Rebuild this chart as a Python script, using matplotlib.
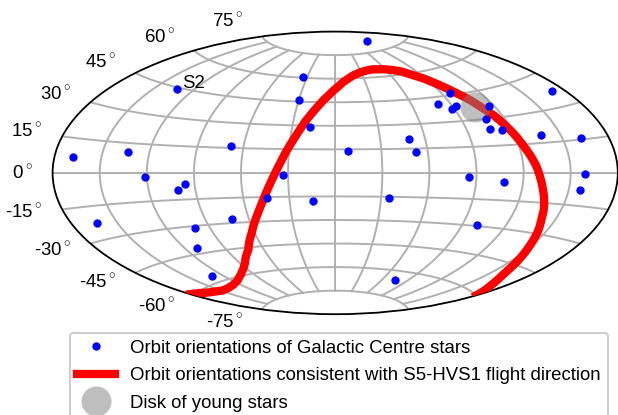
import numpy as np
import matplotlib
matplotlib.use('Agg')
import matplotlib.pyplot as plt

plt.rcParams['font.family'] = ['Liberation Sans', 'DejaVu Sans']
plt.rcParams['mathtext.fontset'] = 'custom'
plt.rcParams['mathtext.rm'] = 'Liberation Sans'
plt.rcParams['mathtext.sf'] = 'Liberation Sans'

W, H = 618, 415

# orbit orientations, degrees
star_lon = [-168.4, -133.6, -121.1, -95.9, -100.9, -133.6, -68.1, -34.6, -29.9, -17.9, -33.1, -44.6, -14.9,
            101.6, 96.9, 80.9, 92.4, 88.1, 116.1, 106.9, 105.6, 113.4, 137.6, 171.1, 162.4, 49.1, 52.6, 8.1,
            85.4, 107.6, 159.4, 156.9, 35.4, -163.6, -100.4, -71.6, -110.9, -130.4, 100.4, 75.1]
star_lat = [6.8, 10.6, -2.4, -6.1, -9.6, 44.4, 16.1, 60.4, 46.2, 29.3, -1.4, -15.3, -17.8,
            81.0, 46.2, 41.0, 38.5, 37.2, 36.5, 29.8, 24.5, 23.0, 19.0, 37.0, 15.8, 20.8, 12.6, 13.8,
            -2.6, -5.1, -0.4, -7.6, -15.8, -22.8, -31.2, -27.8, -41.9, -56.6, -29.5, -65.4]

track_lon = [-179.9, -171.8, -165.8, -149.8, -139.0, -127.4, -115.5, -103.5, -93.3, -85.9, -72.8, -62.4, -54.2,
             -48.7, -44.3, -40.1, -36.3, -33.1, -29.7, -25.8, -21.6, -16.2, -9.8, -1.7, 8.2, 19.3, 31.1, 44.4,
             56.3, 65.7, 74.0, 81.4, 88.2, 93.5, 98.3, 102.5, 106.8, 110.3, 114.2, 116.9, 119.8, 122.5, 125.4,
             128.2, 130.5, 133.2, 136.2, 138.8, 140.5, 144.2, 147.0, 150.2, 153.8, 157.7, 162.0, 168.2, 174.8,
             179.9]
track_lat = [-59.1, -60.4, -61.6, -63.5, -63.6, -63.1, -61.8, -59.5, -56.7, -53.8, -46.5, -36.9, -26.9,
             -19.2, -11.6, -3.8, 3.9, 10.9, 17.6, 24.9, 32.4, 39.5, 46.3, 52.4, 58.0, 61.8, 64.0, 65.0,
             64.6, 63.6, 62.1, 59.1, 56.2, 52.7, 48.9, 45.0, 41.0, 36.3, 31.5, 26.6, 21.1, 15.1, 9.3,
             3.7, -1.9, -7.8, -13.5, -18.5, -22.5, -28.2, -33.0, -37.9, -42.5, -47.0, -50.7, -54.3, -57.4,
             -60.0]

disk_lon = 105.5
disk_lat = 37.0
s2_lon, s2_lat = star_lon[5], star_lat[5]

lat_ticks = [75, 60, 45, 30, 15, 0, -15, -30, -45, -60, -75]
lat_label_x = [243, 175, 116.5, 71.5, 42.5, 32.5, 42, 71.5, 116.5, 175, 243]
lat_label_y = [27, 43, 68, 100, 137, 178.5, 217.5, 255.5, 288, 312, 328]

fig = plt.figure(figsize=(W / 100, H / 100), dpi=100)
ax = fig.add_axes([52.6 / W, 1 - 314.2 / H, 565.2 / W, 282.6 / H], projection='aitoff')
ax.grid(True, color='#b0b0b0', lw=1.4)
ax.set_xticklabels([])
ax.set_yticklabels([])
for sp in ax.spines.values():
    sp.set_linewidth(1.3)

stars, = ax.plot(np.radians(star_lon), np.radians(star_lat), 'o', color='b', ms=6, mew=0, ls='none', zorder=5,
                 label='Orbit orientations of Galactic Centre stars')
track, = ax.plot(np.radians(track_lon), np.radians(track_lat), '-', color='r', lw=6, zorder=3,
                 label='Orbit orientations consistent with S5-HVS1 flight direction')
disk, = ax.plot(np.radians([disk_lon]), np.radians([disk_lat]), 'o', color='gray', alpha=0.5, ms=21.6, mew=0,
                ls='none', zorder=4, label='Disk of young stars')

ax.annotate('S2', xy=(np.radians(s2_lon), np.radians(s2_lat)), xytext=(5.5, 0.5), textcoords='offset pixels',
            fontsize=13.4, va='baseline', ha='left')

for lat, x, y in zip(lat_ticks, lat_label_x, lat_label_y):
    fig.text(x / W, 1 - y / H, '%d$^\\circ$' % lat, ha='right', va='baseline', fontsize=13.4)

leg = fig.legend(handles=[stars, track, disk], loc='upper left', bbox_to_anchor=(70 / W, 1 - 332.5 / H),
                 fontsize=13.4, borderaxespad=0, framealpha=1, labelspacing=0.56)
leg.get_frame().set_linewidth(1.4)

fig.savefig('out.png', dpi=100)
